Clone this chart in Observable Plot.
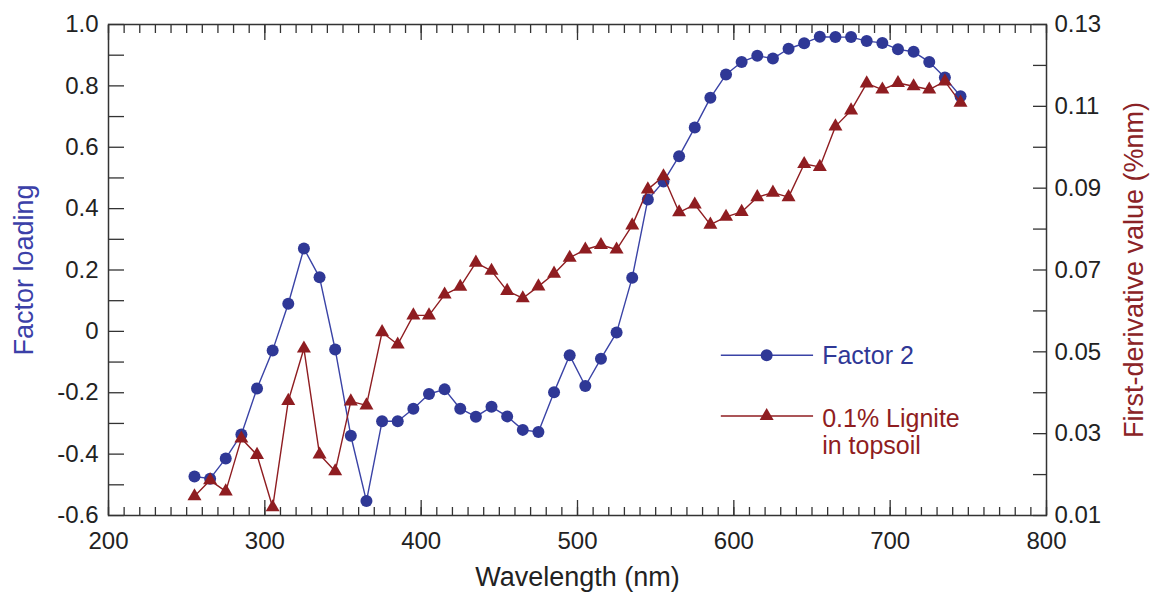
<!DOCTYPE html>
<html>
<head>
<meta charset="utf-8">
<script src="https://cdn.jsdelivr.net/npm/d3@7"></script>
<script src="https://cdn.jsdelivr.net/npm/@observablehq/plot@0.6"></script>
<style>
  body { margin: 0; background: #fff; }
  #chart svg { display: block; }
</style>
</head>
<body>
<div id="chart"></div>
<script>
// ---- Data ----
const wavelength = [255, 265, 275, 285, 295, 305, 315, 325, 335, 345,
                    355, 365, 375, 385, 395, 405, 415, 425, 435, 445,
                    455, 465, 475, 485, 495, 505, 515, 525, 535, 545,
                    555, 565, 575, 585, 595, 605, 615, 625, 635, 645,
                    655, 665, 675, 685, 695, 705, 715, 725, 735, 745];

// Factor loading (left axis)
const factor2 = [-0.473, -0.480, -0.414, -0.336, -0.186, -0.062, 0.090, 0.270, 0.176, -0.059,
                 -0.340, -0.553, -0.293, -0.293, -0.252, -0.204, -0.189, -0.252, -0.278, -0.246,
                 -0.277, -0.321, -0.328, -0.198, -0.078, -0.178, -0.089, -0.004, 0.175, 0.430,
                 0.488, 0.571, 0.664, 0.761, 0.837, 0.878, 0.898, 0.889, 0.921, 0.939,
                 0.960, 0.959, 0.959, 0.946, 0.940, 0.919, 0.911, 0.878, 0.827, 0.766];

// First-derivative value (right axis)
const lignite = [0.0147, 0.0186, 0.0159, 0.0288, 0.0248, 0.0120, 0.0380, 0.0508, 0.0249, 0.0208,
                 0.0379, 0.0369, 0.0548, 0.0518, 0.0589, 0.0589, 0.0640, 0.0659, 0.0718, 0.0698,
                 0.0649, 0.0631, 0.0660, 0.0691, 0.0730, 0.0750, 0.0761, 0.0750, 0.0809, 0.0897,
                 0.0929, 0.0841, 0.0860, 0.0811, 0.0830, 0.0842, 0.0878, 0.0889, 0.0878, 0.0959,
                 0.0952, 0.1051, 0.1090, 0.1156, 0.1141, 0.1157, 0.1149, 0.1141, 0.1161, 0.1109];

const seriesNames = ["Factor 2", "0.1% Lignite\nin topsoil"];

// Ticks
const xLabelTicks = [200, 300, 400, 500, 600, 700, 800];
const xMinorTicks = [200, 210, 220, 230, 240, 250, 260, 270, 280, 290,
                     300, 310, 320, 330, 340, 350, 360, 370, 380, 390,
                     400, 410, 420, 430, 440, 450, 460, 470, 480, 490,
                     500, 510, 520, 530, 540, 550, 560, 570, 580, 590,
                     600, 610, 620, 630, 640, 650, 660, 670, 680, 690,
                     700, 710, 720, 730, 740, 750, 760, 770, 780, 790, 800];
const leftLabelTicks = [-0.6, -0.4, -0.2, 0, 0.2, 0.4, 0.6, 0.8, 1.0];
const leftMinorTicks = [-0.6, -0.5, -0.4, -0.3, -0.2, -0.1, 0, 0.1, 0.2, 0.3, 0.4, 0.5, 0.6, 0.7, 0.8, 0.9, 1.0];
const rightLabelTicks = [0.01, 0.03, 0.05, 0.07, 0.09, 0.11, 0.13];
const rightMinorTicks = [0.01, 0.02, 0.03, 0.04, 0.05, 0.06, 0.07, 0.08, 0.09, 0.10, 0.11, 0.12, 0.13];

// ---- Scales mapping (dual axis) ----
const leftDomain = [-0.6, 1.0];
const rightDomain = [0.01, 0.13];
const toLeft = v => leftDomain[0] + (v - rightDomain[0]) / (rightDomain[1] - rightDomain[0]) * (leftDomain[1] - leftDomain[0]);
const toRight = l => rightDomain[0] + (l - leftDomain[0]) / (leftDomain[1] - leftDomain[0]) * (rightDomain[1] - rightDomain[0]);

const blueData = wavelength.map((w, i) => ({w, v: factor2[i]}));
const redData = wavelength.map((w, i) => ({w, v: toLeft(lignite[i])}));

// ---- Style ----
const BLUE = "#2f3896";
const BLUE_LINE = "#3a43a6";
const RED = "#8f1d21";
const AXIS = "#333";
const TXT = "#222";
const FONT = "'Liberation Sans', Arial, Helvetica, sans-serif";

// Legend layout (in data units of the plot)
const legendLayout = {x1: 592, x2: 651, xMarker: 621, xText: 656.5, y: [-0.078, -0.276]};

const chart = Plot.plot({
  width: 1153,
  height: 594,
  marginLeft: 108,
  marginRight: 107,
  marginTop: 24,
  marginBottom: 79,
  style: {fontFamily: FONT, fontSize: "24px", background: "#fff", color: TXT},
  x: {domain: [200, 800]},
  y: {domain: leftDomain},
  marks: [
    // tick marks (inward)
    Plot.axisX(xMinorTicks, {anchor: "bottom", tickSize: -8, fill: "none", stroke: AXIS, strokeWidth: 1.3, label: null}),
    Plot.axisX(xLabelTicks, {anchor: "bottom", tickSize: -15, fill: "none", stroke: AXIS, strokeWidth: 1.3, label: null}),
    Plot.axisX(xMinorTicks, {anchor: "top", tickSize: -8, fill: "none", stroke: AXIS, strokeWidth: 1.3, label: null}),
    Plot.axisX(xLabelTicks, {anchor: "top", tickSize: -15, fill: "none", stroke: AXIS, strokeWidth: 1.3, label: null}),
    Plot.axisY(leftMinorTicks, {anchor: "left", tickSize: -16, fill: "none", stroke: AXIS, strokeWidth: 1.3, label: null}),
    Plot.axisY(rightMinorTicks.map(toLeft), {anchor: "right", tickSize: -14, fill: "none", stroke: AXIS, strokeWidth: 1.3, label: null}),
    // tick labels
    Plot.axisX(xLabelTicks, {anchor: "bottom", tickSize: 0, tickPadding: 16, fontSize: 24, fill: TXT, label: null, tickFormat: d => String(d)}),
    Plot.axisY(leftLabelTicks, {anchor: "left", tickSize: 0, tickPadding: 10, fontSize: 24, fill: TXT, label: null,
      tickFormat: d => Math.abs(d) < 1e-9 ? "0" : d.toFixed(1)}),
    Plot.axisY(rightLabelTicks.map(toLeft), {anchor: "right", tickSize: 0, tickPadding: 8, fontSize: 24, fill: TXT, label: null,
      tickFormat: d => toRight(d).toFixed(2)}),
    Plot.frame({stroke: AXIS, strokeWidth: 1.5}),
    // axis titles
    Plot.text(["Factor loading"], {text: d => d, frameAnchor: "left", textAnchor: "middle", rotate: -90, dx: -84, fontSize: 27, fill: "#3b40a8"}),
    Plot.text(["First-derivative value (%nm)"], {text: d => d, frameAnchor: "right", textAnchor: "middle", rotate: -90, dx: 88, fontSize: 27, fill: "#8b2326"}),
    Plot.text(["Wavelength (nm)"], {text: d => d, frameAnchor: "bottom", textAnchor: "middle", dy: 70, fontSize: 27, fill: TXT}),
    // series
    Plot.line(blueData, {x: "w", y: "v", stroke: BLUE_LINE, strokeWidth: 1.4}),
    Plot.dot(blueData, {x: "w", y: "v", r: 6, fill: BLUE, symbol: "circle"}),
    Plot.line(redData, {x: "w", y: "v", stroke: RED, strokeWidth: 1.4}),
    Plot.dot(redData, {x: "w", y: "v", r: 5.2, fill: RED, symbol: "triangle"}),
    // legend
    Plot.ruleY([legendLayout.y[0]], {x1: legendLayout.x1, x2: legendLayout.x2, stroke: BLUE_LINE, strokeWidth: 1.4}),
    Plot.dot([legendLayout.y[0]], {x: legendLayout.xMarker, y: d => d, r: 6, fill: BLUE, symbol: "circle"}),
    Plot.text([seriesNames[0]], {text: d => d, x: legendLayout.xText, y: legendLayout.y[0], textAnchor: "start", lineAnchor: "top", dy: -9, fontSize: 25, fill: BLUE}),
    Plot.ruleY([legendLayout.y[1]], {x1: legendLayout.x1, x2: legendLayout.x2, stroke: RED, strokeWidth: 1.4}),
    Plot.dot([legendLayout.y[1]], {x: legendLayout.xMarker, y: d => d, r: 5.2, fill: RED, symbol: "triangle"}),
    Plot.text([seriesNames[1]], {text: d => d, x: legendLayout.xText, y: legendLayout.y[1], textAnchor: "start", lineAnchor: "top", dy: -9, lineHeight: 1.1, fontSize: 25, fill: RED})
  ]
});

document.getElementById("chart").appendChild(chart);
</script>
</body>
</html>
